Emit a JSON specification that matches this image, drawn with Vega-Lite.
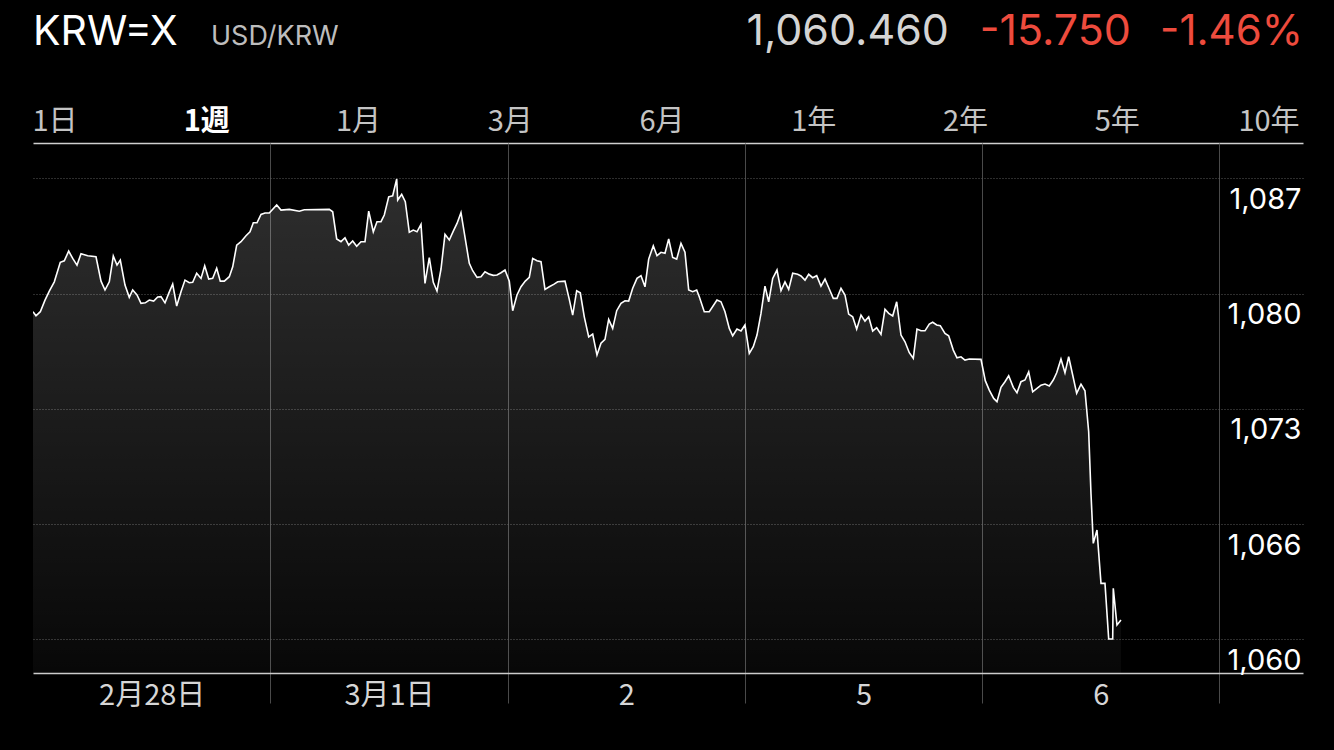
{
  "$schema": "https://vega.github.io/schema/vega-lite/v6.json",
  "background": "#000000",
  "padding": {"left": 32, "right": 32, "top": 0, "bottom": 42},
  "spacing": 0,
  "bounds": "flush",
  "config": {"view": {"stroke": null}},
  "datasets": {
    "quote": [{"symbol": "KRW=X", "name": "USD/KRW", "price": "1,060.460", "change": "-15.750", "pct": "-1.46%"}],
    "tabs": [{"tab": "1日"}, {"tab": "1週"}, {"tab": "1月"}, {"tab": "3月"}, {"tab": "6月"}, {"tab": "1年"}, {"tab": "2年"}, {"tab": "5年"}, {"tab": "10年"}],
    "series": [
      {"t":0.0,"v":1079.19},{"t":0.0126,"v":1078.95},{"t":0.0308,"v":1079.19},{"t":0.0506,"v":1079.87},{"t":0.0687,"v":1080.40},
      {"t":0.0898,"v":1080.94},{"t":0.1150,"v":1082.08},{"t":0.1319,"v":1082.17},{"t":0.1504,"v":1082.74},{"t":0.1673,"v":1082.31},
      {"t":0.1854,"v":1081.92},{"t":0.2023,"v":1082.58},{"t":0.2305,"v":1082.47},{"t":0.2655,"v":1082.41},{"t":0.2866,"v":1080.98},
      {"t":0.3034,"v":1080.46},{"t":0.3215,"v":1080.94},{"t":0.3384,"v":1082.45},{"t":0.3540,"v":1081.92},{"t":0.3679,"v":1082.21},
      {"t":0.3877,"v":1080.75},{"t":0.4058,"v":1080.03},{"t":0.4201,"v":1080.46},{"t":0.4383,"v":1080.17},{"t":0.4551,"v":1079.68},
      {"t":0.4732,"v":1079.71},{"t":0.4901,"v":1079.87},{"t":0.5086,"v":1079.81},{"t":0.5255,"v":1080.05},{"t":0.5394,"v":1080.07},
      {"t":0.5563,"v":1079.71},{"t":0.5719,"v":1080.26},{"t":0.5887,"v":1080.81},{"t":0.6056,"v":1079.52},{"t":0.6237,"v":1080.36},
      {"t":0.6405,"v":1081.04},{"t":0.6587,"v":1080.89},{"t":0.6730,"v":1080.91},{"t":0.6898,"v":1081.44},{"t":0.7080,"v":1081.14},
      {"t":0.7236,"v":1081.88},{"t":0.7404,"v":1081.10},{"t":0.7573,"v":1081.14},{"t":0.7741,"v":1081.73},{"t":0.7893,"v":1080.98},
      {"t":0.8062,"v":1080.98},{"t":0.8272,"v":1081.24},{"t":0.8416,"v":1081.82},{"t":0.8584,"v":1083.09},{"t":0.8765,"v":1083.29},
      {"t":0.8976,"v":1083.64},{"t":0.9145,"v":1083.87},{"t":0.9284,"v":1084.40},{"t":0.9440,"v":1084.40},{"t":0.9608,"v":1084.89},
      {"t":0.9777,"v":1084.97},{"t":0.9958,"v":1084.97},{"t":1.0270,"v":1085.44},{"t":1.0451,"v":1085.14},{"t":1.0801,"v":1085.18},
      {"t":1.1222,"v":1085.07},{"t":1.1433,"v":1085.16},{"t":1.2487,"v":1085.18},{"t":1.2630,"v":1085.04},{"t":1.2798,"v":1083.45},
      {"t":1.2979,"v":1083.29},{"t":1.3148,"v":1083.52},{"t":1.3304,"v":1083.09},{"t":1.3472,"v":1083.33},{"t":1.3641,"v":1083.02},
      {"t":1.3822,"v":1083.29},{"t":1.3991,"v":1083.29},{"t":1.4147,"v":1085.08},{"t":1.4341,"v":1083.87},{"t":1.4496,"v":1084.46},
      {"t":1.4665,"v":1084.46},{"t":1.4804,"v":1084.85},{"t":1.4990,"v":1085.92},{"t":1.5158,"v":1085.98},{"t":1.5327,"v":1086.96},
      {"t":1.5369,"v":1085.73},{"t":1.5537,"v":1086.06},{"t":1.5689,"v":1085.63},{"t":1.5858,"v":1083.84},{"t":1.6026,"v":1083.97},
      {"t":1.6182,"v":1083.87},{"t":1.6351,"v":1084.31},{"t":1.6519,"v":1080.85},{"t":1.6700,"v":1082.35},{"t":1.6869,"v":1080.91},
      {"t":1.7025,"v":1080.40},{"t":1.7194,"v":1081.69},{"t":1.7362,"v":1083.72},{"t":1.7543,"v":1083.39},{"t":1.7712,"v":1083.91},
      {"t":1.7868,"v":1084.36},{"t":1.8036,"v":1084.99},{"t":1.8386,"v":1082.02},{"t":1.8529,"v":1081.59},{"t":1.8711,"v":1081.20},
      {"t":1.8879,"v":1081.24},{"t":1.9048,"v":1081.53},{"t":1.9229,"v":1081.39},{"t":1.9398,"v":1081.32},{"t":1.9553,"v":1081.34},
      {"t":1.9722,"v":1081.47},{"t":1.9891,"v":1081.63},{"t":2.0072,"v":1080.98},{"t":2.0215,"v":1079.25},{"t":2.0396,"v":1080.17},
      {"t":2.0565,"v":1080.65},{"t":2.0746,"v":1080.98},{"t":2.0915,"v":1081.20},{"t":2.1058,"v":1082.31},{"t":2.1239,"v":1082.17},
      {"t":2.1408,"v":1082.12},{"t":2.1576,"v":1080.50},{"t":2.1757,"v":1080.65},{"t":2.1943,"v":1080.79},{"t":2.2111,"v":1080.94},
      {"t":2.2419,"v":1080.98},{"t":2.2600,"v":1079.91},{"t":2.2743,"v":1078.99},{"t":2.2912,"v":1080.42},{"t":2.3064,"v":1080.30},
      {"t":2.3232,"v":1078.89},{"t":2.3418,"v":1077.72},{"t":2.3586,"v":1077.88},{"t":2.3767,"v":1076.65},{"t":2.3936,"v":1077.34},
      {"t":2.4105,"v":1077.57},{"t":2.4260,"v":1078.74},{"t":2.4429,"v":1078.21},{"t":2.4598,"v":1079.25},{"t":2.4779,"v":1079.68},
      {"t":2.4947,"v":1079.83},{"t":2.5103,"v":1079.81},{"t":2.5272,"v":1080.56},{"t":2.5453,"v":1081.14},{"t":2.5622,"v":1081.30},
      {"t":2.5790,"v":1080.65},{"t":2.5946,"v":1082.27},{"t":2.6140,"v":1083.05},{"t":2.6296,"v":1082.47},{"t":2.6465,"v":1082.67},
      {"t":2.6633,"v":1082.61},{"t":2.6789,"v":1083.45},{"t":2.6957,"v":1082.37},{"t":2.7126,"v":1082.27},{"t":2.7307,"v":1083.19},
      {"t":2.7476,"v":1082.67},{"t":2.7632,"v":1080.46},{"t":2.7800,"v":1080.36},{"t":2.7969,"v":1080.46},{"t":2.8078,"v":1080.07},
      {"t":2.8289,"v":1079.19},{"t":2.8500,"v":1079.19},{"t":2.8824,"v":1079.87},{"t":2.8993,"v":1079.77},{"t":2.9161,"v":1079.19},
      {"t":2.9343,"v":1078.21},{"t":2.9486,"v":1077.78},{"t":2.9667,"v":1078.17},{"t":2.9836,"v":1078.06},{"t":3.0004,"v":1078.41},
      {"t":3.0186,"v":1076.75},{"t":3.0354,"v":1077.14},{"t":3.0510,"v":1077.82},{"t":3.0679,"v":1079.09},{"t":3.0847,"v":1080.69},
      {"t":3.1003,"v":1079.77},{"t":3.1172,"v":1081.14},{"t":3.1353,"v":1081.63},{"t":3.1522,"v":1080.42},{"t":3.1690,"v":1080.94},
      {"t":3.1846,"v":1080.50},{"t":3.2015,"v":1081.44},{"t":3.2225,"v":1081.38},{"t":3.2364,"v":1081.28},{"t":3.2533,"v":1081.04},
      {"t":3.2689,"v":1081.38},{"t":3.2857,"v":1081.18},{"t":3.3026,"v":1081.30},{"t":3.3207,"v":1080.69},{"t":3.3376,"v":1081.10},
      {"t":3.3557,"v":1080.52},{"t":3.3725,"v":1079.97},{"t":3.3881,"v":1079.97},{"t":3.4050,"v":1080.56},{"t":3.4219,"v":1080.17},
      {"t":3.4374,"v":1079.05},{"t":3.4543,"v":1078.89},{"t":3.4711,"v":1078.17},{"t":3.4893,"v":1078.99},{"t":3.5061,"v":1078.64},
      {"t":3.5217,"v":1078.89},{"t":3.5386,"v":1078.06},{"t":3.5555,"v":1078.25},{"t":3.5736,"v":1077.86},{"t":3.5904,"v":1079.33},
      {"t":3.6060,"v":1079.09},{"t":3.6229,"v":1078.94},{"t":3.6397,"v":1079.77},{"t":3.6578,"v":1077.82},{"t":3.6747,"v":1077.43},
      {"t":3.6928,"v":1076.79},{"t":3.7097,"v":1076.46},{"t":3.7252,"v":1078.17},{"t":3.7421,"v":1078.07},{"t":3.7590,"v":1078.07},
      {"t":3.7771,"v":1078.47},{"t":3.7914,"v":1078.57},{"t":3.8083,"v":1078.41},{"t":3.8234,"v":1078.37},{"t":3.8432,"v":1077.92},
      {"t":3.8588,"v":1077.78},{"t":3.8782,"v":1076.94},{"t":3.8938,"v":1076.49},{"t":3.9107,"v":1076.55},{"t":3.9275,"v":1076.36},
      {"t":3.9457,"v":1076.42},{"t":3.9950,"v":1076.40},{"t":4.0131,"v":1075.15},{"t":4.0299,"v":1074.60},{"t":4.0485,"v":1074.11},
      {"t":4.0624,"v":1073.92},{"t":4.0792,"v":1074.76},{"t":4.0961,"v":1075.09},{"t":4.1117,"v":1075.44},{"t":4.1311,"v":1074.76},
      {"t":4.1467,"v":1074.44},{"t":4.1635,"v":1075.09},{"t":4.1804,"v":1075.19},{"t":4.1960,"v":1075.67},{"t":4.2128,"v":1074.50},
      {"t":4.2309,"v":1074.70},{"t":4.2478,"v":1074.89},{"t":4.2647,"v":1074.95},{"t":4.2828,"v":1074.84},{"t":4.2996,"v":1075.19},
      {"t":4.3140,"v":1075.61},{"t":4.3321,"v":1076.42},{"t":4.3489,"v":1075.61},{"t":4.3645,"v":1076.55},{"t":4.3814,"v":1075.48},
      {"t":4.3982,"v":1074.41},{"t":4.4164,"v":1074.95},{"t":4.4332,"v":1074.56},{"t":4.4488,"v":1072.16},{"t":4.4585,"v":1068.55},
      {"t":4.4682,"v":1065.62},{"t":4.4838,"v":1066.40},{"t":4.5007,"v":1063.28},{"t":4.5175,"v":1063.28},{"t":4.5331,"v":1060.02},
      {"t":4.5500,"v":1060.02},{"t":4.5525,"v":1062.99},{"t":4.5681,"v":1060.84},{"t":4.5849,"v":1061.13}
    ]
  },
  "vconcat": [
    {
      "width": 1270,
      "height": 143,
      "layer": [
        {
          "data": {"name": "quote"},
          "mark": {"type": "text", "x": 0, "y": 45, "align": "left", "baseline": "alphabetic", "font": "Inter", "fontSize": 41, "color": "#ffffff"},
          "encoding": {"text": {"field": "symbol"}}
        },
        {
          "data": {"name": "quote"},
          "mark": {"type": "text", "x": 178, "y": 45, "align": "left", "baseline": "alphabetic", "font": "Inter", "fontSize": 27, "color": "#bdbdbd"},
          "encoding": {"text": {"field": "name"}}
        },
        {
          "data": {"name": "quote"},
          "mark": {"type": "text", "x": 916, "y": 45, "align": "right", "baseline": "alphabetic", "font": "Inter", "fontSize": 43, "color": "#d4d4d4"},
          "encoding": {"text": {"field": "price"}}
        },
        {
          "data": {"name": "quote"},
          "mark": {"type": "text", "x": 1098, "y": 45, "align": "right", "baseline": "alphabetic", "font": "Inter", "fontSize": 43, "color": "#ee4b3d"},
          "encoding": {"text": {"field": "change"}}
        },
        {
          "data": {"name": "quote"},
          "mark": {"type": "text", "x": 1270, "y": 45, "align": "right", "baseline": "alphabetic", "font": "Inter", "fontSize": 42, "color": "#ee4b3d"},
          "encoding": {"text": {"field": "pct"}}
        },
        {
          "data": {"name": "tabs"},
          "transform": [{"filter": "datum.tab !== '1週'"}],
          "mark": {"type": "text", "y": 131, "baseline": "alphabetic", "font": "Noto Sans CJK JP", "fontSize": 29, "color": "#c4c4c4"},
          "encoding": {
            "x": {
              "field": "tab", "type": "nominal",
              "scale": {"type": "point", "padding": 0.1845, "align": 0.393, "domain": ["1日", "1週", "1月", "3月", "6月", "1年", "2年", "5年", "10年"]},
              "axis": {"orient": "bottom", "title": null, "domain": true, "domainColor": "#cfcfcf", "domainWidth": 1.5, "ticks": false, "labels": false, "grid": false}
            },
            "text": {"field": "tab"}
          }
        },
        {
          "data": {"name": "tabs"},
          "transform": [{"filter": "datum.tab === '1週'"}],
          "mark": {"type": "text", "y": 131, "baseline": "alphabetic", "font": "Noto Sans CJK JP", "fontSize": 29, "fontWeight": "bold", "color": "#ffffff"},
          "encoding": {
            "x": {
              "field": "tab", "type": "nominal",
              "scale": {"type": "point", "padding": 0.1845, "align": 0.393, "domain": ["1日", "1週", "1月", "3月", "6月", "1年", "2年", "5年", "10年"]},
              "axis": {"orient": "bottom", "title": null, "domain": true, "domainColor": "#cfcfcf", "domainWidth": 1.5, "ticks": false, "labels": false, "grid": false}
            },
            "text": {"field": "tab"}
          }
        }
      ]
    },
    {
      "width": 1270,
      "height": 530,
      "data": {"name": "series"},
      "encoding": {
        "x": {
          "field": "t",
          "type": "quantitative",
          "scale": {"domain": [0, 5.352], "nice": false, "zero": false},
          "axis": {
            "orient": "bottom",
            "title": null,
            "values": [1, 2, 3, 4, 5],
            "grid": true,
            "gridColor": "#4a4a4a",
            "gridWidth": 1,
            "domain": true,
            "domainColor": "#cccccc",
            "domainWidth": 1.5,
            "ticks": true,
            "tickSize": 30,
            "tickColor": "#4a4a4a",
            "tickWidth": 1,
            "labelExpr": "['2月28日','3月1日','2','5','6'][datum.value - 1]",
            "labelOffset": -118.6,
            "labelPadding": 1,
            "labelBaseline": "alphabetic",
            "labelFont": "Noto Sans CJK JP",
            "labelFontSize": 29,
            "labelColor": "#d6d6d6",
            "labelOverlap": false,
            "labelFlush": false,
            "labelBound": false
          }
        },
        "y": {
          "field": "v",
          "type": "quantitative",
          "scale": {"domain": [1058.03, 1089.07], "nice": false, "zero": false},
          "axis": {
            "orient": "right",
            "title": null,
            "values": [1060, 1066.75, 1073.5, 1080.25, 1087],
            "grid": true,
            "gridColor": "#5a5a5a",
            "gridDash": [1, 2],
            "gridWidth": 1,
            "domain": false,
            "ticks": false,
            "labelExpr": "format(floor(datum.value), ',')",
            "labelAlign": "right",
            "labelPadding": -2,
            "labelBaseline": "alphabetic",
            "labelOffset": 30,
            "labelFont": "Inter",
            "labelFontSize": 29,
            "labelColor": "#ffffff",
            "labelOverlap": false,
            "labelFlush": false,
            "labelBound": false
          }
        }
      },
      "layer": [
        {
          "mark": {
            "type": "area",
            "clip": true,
            "color": {
              "gradient": "linear",
              "x1": 0, "y1": 0, "x2": 0, "y2": 1,
              "stops": [
                {"offset": 0, "color": "rgba(255,255,255,0.18)"},
                {"offset": 1, "color": "rgba(255,255,255,0.03)"}
              ]
            }
          },
          "encoding": {"y2": {"datum": 1058.03}}
        },
        {
          "mark": {"type": "line", "clip": true, "color": "#ffffff", "strokeWidth": 1.6}
        }
      ]
    }
  ]
}
